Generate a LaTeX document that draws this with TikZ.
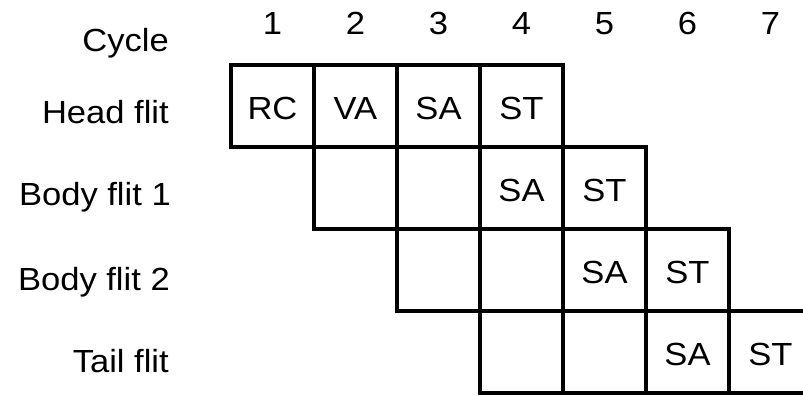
\documentclass[tikz,border=0pt]{standalone}
\usepackage{fontspec}
\setmainfont{Liberation Sans}[FakeStretch=1.08]
\begin{document}
\begin{tikzpicture}[x=1pt,y=-1pt,
  cell/.style={draw=black, line width=4.3pt, minimum width=83pt, minimum height=82pt,
    inner sep=0pt, anchor=center, text height=27pt, text depth=0pt,
    font=\fontsize{32}{38}\selectfont},
  rowlabel/.style={anchor=base east, inner sep=0pt, font=\fontsize{32}{38}\selectfont},
  cyclenum/.style={anchor=base, inner sep=0pt, font=\fontsize{32}{38}\selectfont}]
\useasboundingbox (0,0) rectangle (803,396);
\fill[white] (0,0) rectangle (803,396);
% cycle numbers
\node[cyclenum] (c1) at (272.5,35) {1};
\node[cyclenum] (c2) at (355.5,35) {2};
\node[cyclenum] (c3) at (438.5,35) {3};
\node[cyclenum] (c4) at (521.5,35) {4};
\node[cyclenum] (c5) at (604.5,35) {5};
\node[cyclenum] (c6) at (687.5,35) {6};
\node[cyclenum] (c7) at (770.5,35) {7};
% row labels
\node[rowlabel] (lcyc) at (169,52) {Cycle};
\node[rowlabel] (lhead) at (169,123) {Head flit};
\node[rowlabel] (lbody1) at (171,205) {Body flit 1};
\node[rowlabel] (lbody2) at (170,290) {Body flit 2};
\node[rowlabel] (ltail) at (169,372) {Tail flit};
% head flit
\node[cell] (h1) at (272.5,106) {RC};
\node[cell] (h2) at (355.5,106) {VA};
\node[cell] (h3) at (438.5,106) {SA};
\node[cell] (h4) at (521.5,106) {ST};
% body flit 1
\node[cell] (a2) at (355.5,188) {};
\node[cell] (a3) at (438.5,188) {};
\node[cell] (a4) at (521.5,188) {SA};
\node[cell] (a5) at (604.5,188) {ST};
% body flit 2
\node[cell] (b3) at (438.5,270) {};
\node[cell] (b4) at (521.5,270) {};
\node[cell] (b5) at (604.5,270) {SA};
\node[cell] (b6) at (687.5,270) {ST};
% tail flit
\node[cell] (t4) at (521.5,352) {};
\node[cell] (t5) at (604.5,352) {};
\node[cell] (t6) at (687.5,352) {SA};
\node[cell] (t7) at (770.5,352) {ST};
\end{tikzpicture}
\end{document}
